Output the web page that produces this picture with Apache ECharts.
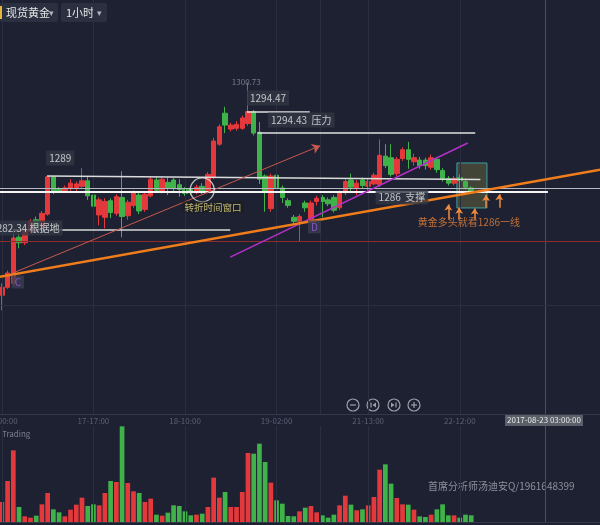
<!DOCTYPE html>
<html><head><meta charset="utf-8">
<script src="https://cdn.jsdelivr.net/npm/echarts@6/dist/echarts.min.js"></script>
<style>html,body{margin:0;padding:0;background:#1d2131}#c{width:600px;height:525px}</style>
</head><body><div id="c"></div>
<script>
// ---- data ----
const ohlc = [ // [open, close, low, high]
[1274.0,1275.0,1272.1,1275.5],[1275.0,1276.8,1274.8,1277.1],[1275.5,1281.2,1275.2,1282.34],[1281.3,1280.6,1279.9,1281.8],
[1280.6,1282.0,1280.3,1282.4],[1282.0,1283.3,1281.7,1283.6],[1283.5,1282.7,1282.2,1283.9],[1282.6,1284.3,1282.3,1284.6],
[1284.2,1288.9,1284.0,1289.0],[1288.9,1287.0,1286.7,1289.0],[1287.3,1287.1,1286.9,1287.6],[1287.1,1287.5,1286.9,1287.8],
[1287.4,1288.1,1287.1,1288.6],[1287.5,1288.0,1287.1,1288.3],[1287.7,1288.4,1287.4,1290.0],[1288.4,1286.5,1286.0,1288.9],
[1286.6,1285.2,1284.7,1287.0],[1284.1,1286.0,1282.8,1286.3],[1283.8,1285.8,1282.4,1286.2],[1285.9,1284.4,1283.7,1286.2],
[1284.3,1286.4,1284.0,1286.7],[1286.3,1283.9,1281.3,1289.6],[1284.0,1285.7,1283.5,1286.0],[1285.3,1286.9,1285.0,1287.2],
[1286.6,1284.6,1284.2,1286.9],[1284.8,1286.7,1284.5,1287.0],[1286.5,1288.6,1286.3,1288.9],[1288.5,1287.2,1286.9,1288.9],
[1287.0,1288.6,1286.8,1288.9],[1288.2,1287.5,1286.6,1288.8],[1288.5,1287.4,1287.1,1288.8],[1287.9,1287.3,1286.4,1288.6],
[1287.3,1286.8,1286.5,1287.6],[1287.3,1286.9,1286.6,1287.6],[1286.9,1287.6,1286.7,1287.9],[1287.7,1287.0,1286.7,1288.1],
[1287.0,1289.2,1286.8,1289.5],[1288.8,1293.4,1288.6,1293.8],[1293.0,1295.2,1292.8,1295.5],[1296.9,1295.4,1294.4,1297.7],
[1294.9,1295.4,1294.6,1295.7],[1295.0,1295.5,1294.7,1295.9],[1295.0,1296.3,1294.8,1296.6],[1295.6,1297.1,1295.3,1300.73],
[1297.1,1294.4,1294.1,1297.3],[1294.5,1288.6,1288.0,1295.8],[1289.0,1287.0,1284.5,1289.2],[1284.9,1289.0,1284.5,1289.3],
[1289.1,1287.5,1287.0,1289.4],[1287.5,1286.3,1285.6,1287.8],[1285.9,1285.3,1285.0,1286.2],[1283.8,1283.3,1283.0,1284.1],
[1283.3,1283.9,1280.7,1284.2],[1285.6,1285.0,1284.5,1285.9],[1283.5,1285.6,1283.2,1285.9],[1285.8,1286.2,1285.3,1286.5],
[1286.3,1285.8,1283.8,1286.6],[1286.0,1285.5,1285.2,1286.3],[1286.3,1284.7,1284.4,1286.6],[1285.0,1286.9,1284.7,1287.2],
[1286.9,1288.3,1286.6,1288.6],[1288.5,1287.6,1287.1,1289.3],[1287.5,1288.1,1286.6,1288.5],[1288.5,1287.8,1287.5,1288.8],
[1287.7,1288.3,1287.2,1288.7],[1288.0,1289.1,1287.8,1289.4],[1287.9,1291.6,1287.6,1293.6],[1291.5,1290.3,1290.0,1293.0],
[1291.3,1289.2,1288.9,1293.0],[1289.3,1291.1,1289.0,1291.4],[1291.2,1292.3,1290.9,1292.6],[1292.3,1291.1,1289.9,1293.3],
[1290.8,1291.3,1290.3,1291.8],[1291.0,1290.3,1289.9,1291.4],[1291.0,1290.3,1289.8,1291.3],[1290.1,1291.3,1289.8,1291.7],
[1291.1,1289.8,1289.4,1291.4],[1289.7,1288.6,1288.3,1290.0],[1288.7,1288.1,1287.8,1289.0],[1288.1,1288.7,1287.8,1289.0],
[1288.8,1288.4,1286.8,1289.2],[1288.3,1287.6,1287.3,1288.6],[1287.5,1287.1,1286.9,1287.7]
];
const volumes = [60,123,215,45,17,13,19,53,87,38,29,17,37,52,73,48,53,50,87,123,120,287,117,92,87,60,70,22,19,28,
50,48,32,20,22,25,45,133,73,90,45,45,90,207,205,235,180,118,65,55,18,17,32,43,48,29,20,13,22,50,
79,52,35,38,50,75,157,173,115,72,53,52,37,17,15,22,38,53,20,20,13,22,20];
const slotCount = 105;
const tickLabels = {0:'17-00:00',16:'17-17:00',32:'18-10:00',48:'19-02:00',64:'21-13:00',80:'22-12:00'};
const gridIdx = [0,16,32,48,55.6,64,80];
const gridPrice = 1272.8;
const cursorIndex = 95;
const cursorLabel = '2017-08-23 03:00:00';
// annotation lines: [[index, price],[index, price]]
const trendOrange = [[-0.5,1276.3],[104.5,1289.8]];
const arrowRed = [[1.95,1276.8],[55.6,1292.8]];
const trendPurple = [[39.9,1278.8],[81.4,1293.15]];
const line1289 = [[7.9,1289.0],[83.6,1288.55]];
const line1286 = [[-0.5,1287.0],[95.4,1287.0]];
const lineCross = 1287.5;
const line128234 = [[1.95,1282.25],[39.9,1282.25]];
const line129447 = [[42.8,1297.05],[53.8,1297.05]];
const line129443 = [[44.7,1294.4],[82.7,1294.4]];
const lineRedLevel = 1280.83;
const boxZone = [[79.5,1290.64],[84.75,1284.98]];
const upArrows = [[78.0,1283.5,1285.4],[79.9,1283.5,1285.0],[82.6,1283.5,1284.9],[84.6,1285.0,1286.6],[86.9,1285.0,1286.7]];
const priceTags = [
  {text:'1289', at:[10.2,1291.27]},
  {text:'1282.34 根据地', at:[4.1,1282.45]},
  {text:'1294.47', at:[46.5,1298.8]},
  {text:'1294.43  压力', at:[52.3,1296.05]},
  {text:'1286  支撑', at:[69.9,1286.36]}
];
const pointTags = [{text:'C', at:[2.8,1275.67]},{text:'D', at:[54.6,1282.6]}];
const highNote = {text:'1300.73', at:[42.7,1300.8]};
const turnNote = {text:'转折时间窗口', at:[36.9,1285.1]};
const turnCircle = [35.0,1287.25];
const bullNote = {text:'黄金多头就看1286一线', at:[81.6,1283.2]};
const watermark = '首席分析师汤迪安Q/1961648399';

// ---- chart ----
const FONT = '"Noto Sans CJK SC","Noto Sans",sans-serif';
const RED = '#e4393c', GREEN = '#3fb24a';
const categories = Array.from({length: slotCount}, (_, i) => String(i));
const chart = echarts.init(document.getElementById('c'), null, {renderer:'canvas'});

function seg(pts, style, endSym){
  return [{coord: pts[0], symbol:'none', lineStyle: style},
          {coord: pts[1], symbol: endSym || 'none', symbolSize: 8}];
}
const annLines = [
  seg(line128234, {color:'#d8d8d8', width:1.5, type:'solid'}),
  seg(line1289, {color:'#dcdcdc', width:1.5, type:'solid'}),
  seg(line129447, {color:'#e0e0e0', width:1.5, type:'solid'}),
  seg(line129443, {color:'#e0e0e0', width:1.5, type:'solid'}),
  seg([[-0.5,lineRedLevel],[104.5,lineRedLevel]], {color:'#8e2c2c', width:1.2, type:'solid'}),
  seg([[-0.5,lineCross],[104.5,lineCross]], {color:'#b4b8c0', width:1.2, type:'solid'}),
  seg(line1286, {color:'#f4f4f4', width:2, type:'solid'}),
  seg(arrowRed, {color:'#c8584e', width:1, type:'solid'}, 'arrow'),
  seg(trendPurple, {color:'#b430c8', width:1.5, type:'solid'}),
  seg(trendOrange, {color:'#f07d1c', width:2.5, type:'solid'})
];
upArrows.forEach(a => annLines.push([
  {coord:[a[0],a[1]], symbol:'none', lineStyle:{color:'#f08a3c', width:1.5, type:'solid'}},
  {coord:[a[0],a[2]], symbol:'arrow', symbolSize:[6,6]}
]));
const vLines = gridIdx.map(i => ({xAxis:i, lineStyle:{color:'#2a2f3f', width:1, type:'solid'}}));
vLines.push({xAxis:cursorIndex, lineStyle:{color:'#4a4f5e', width:1, type:'solid'}});
const mainGridLines = vLines.concat([{yAxis:gridPrice, lineStyle:{color:'#2a2f3f', width:1, type:'solid'}}]);

const tagStyle = {show:true, position:'inside', color:'#e8e8e8', fontSize:10, fontFamily:FONT,
  backgroundColor:'#323745', padding:[3,3,2,3]};
const labelData = [];
priceTags.forEach(t => labelData.push({value:t.at, label:Object.assign({}, tagStyle, {formatter:t.text})}));
pointTags.forEach(t => labelData.push({value:t.at, label:{show:true, position:'inside', formatter:t.text, color:'#9a5ce0',
  fontSize:10, fontFamily:FONT, backgroundColor:'#3b3d50', padding:[2,3,1,3]}}));
labelData.push({value:highNote.at, label:{show:true, position:'inside', formatter:highNote.text, color:'#8e939e', fontSize:8, fontFamily:FONT}});
labelData.push({value:turnNote.at, label:{show:true, position:'inside', formatter:turnNote.text, color:'#e8dc86', fontSize:9.5, fontFamily:FONT, backgroundColor:'rgba(28,28,28,0.7)', padding:[1,2]}});
labelData.push({value:bullNote.at, label:{show:true, position:'inside', formatter:bullNote.text, color:'#e8843c', fontSize:10, fontFamily:FONT}});

const candleData = ohlc.map(d => d);
const volData = volumes.map((v, i) => ({value:v, itemStyle:{color: ohlc[i][1] >= ohlc[i][0] ? RED : GREEN}}));

const option = {
  backgroundColor:'#1d2131',
  animation:false,
  grid:[{left:-1, right:0, top:0, height:414, containLabel:false, outerBoundsMode:'none'},
        {left:-1, right:0, top:426, height:96, containLabel:false, outerBoundsMode:'none'}],
  xAxis:[
    {type:'category', gridIndex:0, data:categories, boundaryGap:true,
     axisLine:{show:true, lineStyle:{color:'#333949'}}, axisTick:{show:false},
     axisLabel:{show:true, interval:0, formatter:(v,i)=>tickLabels[i]||'', color:'#5a6172', fontSize:8, margin:3, fontFamily:FONT},
     splitLine:{show:false}},
    {type:'value', gridIndex:0, min:-0.5, max:slotCount-0.5, show:false},
    {type:'category', gridIndex:1, data:categories, boundaryGap:true, position:'top',
     axisLine:{show:true, lineStyle:{color:'#333949'}}, axisTick:{show:false}, axisLabel:{show:false}, splitLine:{show:false}},
    {type:'value', gridIndex:1, min:-0.5, max:slotCount-0.5, show:false}
  ],
  yAxis:[
    {type:'value', gridIndex:0, min:1259.06, max:1311.14, show:false, splitLine:{show:false}},
    {type:'value', gridIndex:1, min:0, max:288, show:false, splitLine:{show:false}}
  ],
  series:[
    {type:'scatter', xAxisIndex:1, yAxisIndex:0, data:[], silent:true, z:1,
     markLine:{silent:true, symbol:['none','none'], label:{show:false}, animation:false, data:mainGridLines}},
    {type:'scatter', xAxisIndex:3, yAxisIndex:1, data:[], silent:true, z:1,
     markLine:{silent:true, symbol:['none','none'], label:{show:false}, animation:false,
       data:vLines.map(v=>Object.assign({}, v))}},
    {type:'candlestick', xAxisIndex:0, yAxisIndex:0, data:candleData, barWidth:5, z:3,
     itemStyle:{color:RED, color0:GREEN, borderColor:RED, borderColor0:GREEN, borderWidth:1}},
    {type:'bar', xAxisIndex:2, yAxisIndex:1, data:volData, barWidth:4.7, z:3},
    {type:'scatter', xAxisIndex:1, yAxisIndex:0, silent:true, z:5,
     symbolSize:1, itemStyle:{color:'rgba(0,0,0,0)'},
     data:labelData.concat([{value:turnCircle, symbol:'circle', symbolSize:24,
        itemStyle:{color:'rgba(0,0,0,0)', borderColor:'#e6e6e6', borderWidth:1.3}}]),
     markLine:{silent:true, symbol:['none','none'], label:{show:false}, animation:false, data:annLines},
     markArea:{silent:true, data:[[{coord:boxZone[0]},{coord:boxZone[1]}]],
       itemStyle:{color:'rgba(96,98,60,0.55)', borderColor:'#3b9ea0', borderWidth:1}}}
  ],
  graphic:[
    {type:'rect', shape:{x:0,y:3,width:58,height:19,r:2}, style:{fill:'#2b3040'}},
    {type:'rect', shape:{x:0,y:6,width:3,height:13}, style:{fill:'#e8b43a'}},
    {type:'text', x:6, y:12.5, style:{text:'现货黄金', fill:'#e6e6e6', font:'11px '+FONT, textVerticalAlign:'middle'}},
    {type:'text', x:49, y:12.5, style:{text:'▾', fill:'#b0b4bc', font:'9px '+FONT, textVerticalAlign:'middle'}},
    {type:'rect', shape:{x:61,y:3,width:46,height:19,r:2}, style:{fill:'#2b3040'}},
    {type:'text', x:66, y:12.5, style:{text:'1小时', fill:'#e6e6e6', font:'11px '+FONT, textVerticalAlign:'middle'}},
    {type:'text', x:97, y:12.5, style:{text:'▾', fill:'#b0b4bc', font:'9px '+FONT, textVerticalAlign:'middle'}},
    {type:'text', x:2, y:434, style:{text:'Trading', fill:'#7a808e', font:'8px '+FONT, textVerticalAlign:'middle'}},
    {type:'text', x:428, y:486, style:{text:watermark, fill:'#8c919c', font:'10px '+FONT, textVerticalAlign:'middle'}},
    {type:'rect', shape:{x:505,y:414,width:78,height:12}, style:{fill:'#5b5f6a'}},
    {type:'text', x:544, y:420, style:{text:cursorLabel, fill:'#e8e8e8', font:'8px '+FONT, textAlign:'center', textVerticalAlign:'middle'}},
    {type:'group', children:[
      {type:'circle', shape:{cx:353,cy:405,r:6}, style:{fill:'none', stroke:'#9ba0aa', lineWidth:1.2}},
      {type:'line', shape:{x1:350,y1:405,x2:356,y2:405}, style:{stroke:'#9ba0aa', lineWidth:1.2}},
      {type:'circle', shape:{cx:373,cy:405,r:6}, style:{fill:'none', stroke:'#9ba0aa', lineWidth:1.2}},
      {type:'line', shape:{x1:371,y1:402.5,x2:371,y2:407.5}, style:{stroke:'#9ba0aa', lineWidth:1.2}},
      {type:'polygon', shape:{points:[[376,402.5],[376,407.5],[372.5,405]]}, style:{fill:'#9ba0aa'}},
      {type:'circle', shape:{cx:394,cy:405,r:6}, style:{fill:'none', stroke:'#9ba0aa', lineWidth:1.2}},
      {type:'line', shape:{x1:396,y1:402.5,x2:396,y2:407.5}, style:{stroke:'#9ba0aa', lineWidth:1.2}},
      {type:'polygon', shape:{points:[[391,402.5],[391,407.5],[394.5,405]]}, style:{fill:'#9ba0aa'}},
      {type:'circle', shape:{cx:414,cy:405,r:6}, style:{fill:'none', stroke:'#9ba0aa', lineWidth:1.2}},
      {type:'line', shape:{x1:411,y1:405,x2:417,y2:405}, style:{stroke:'#9ba0aa', lineWidth:1.2}},
      {type:'line', shape:{x1:414,y1:402,x2:414,y2:408}, style:{stroke:'#9ba0aa', lineWidth:1.2}}
    ]}
  ]
};
chart.setOption(option);
</script></body></html>
